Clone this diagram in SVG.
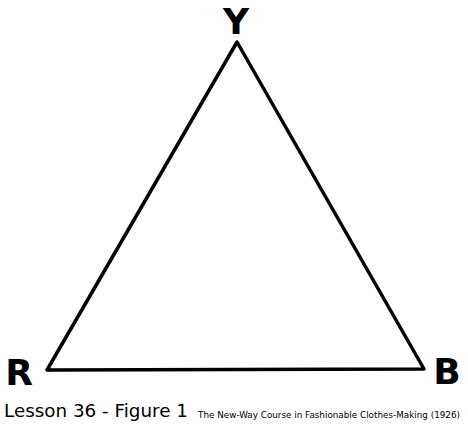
<svg xmlns="http://www.w3.org/2000/svg" width="468" height="425" viewBox="0 0 468 425">
<style>
.edge{fill:none;stroke:#000;stroke-width:3.5;stroke-linejoin:round;stroke-linecap:round}
.lbl{font-family:"DejaVu Sans",sans-serif;font-size:36px;font-weight:bold;fill:#000}
.cap{font-family:"DejaVu Sans",sans-serif;fill:#000}
</style>
<rect width="468" height="425" fill="#fff"/>
<g id="connectors">
<path class="edge" d="M237,42 L47,370 L424,369 Z"/>
</g>
<g id="nodeY"><text class="lbl" x="236" y="34" text-anchor="middle">Y</text></g>
<g id="nodeR"><text class="lbl" x="19" y="385" text-anchor="middle">R</text></g>
<g id="nodeB"><text class="lbl" x="447" y="384" text-anchor="middle">B</text></g>
<g id="caption">
<text class="cap" x="4" y="417" font-size="17" textLength="184" lengthAdjust="spacingAndGlyphs">Lesson 36 - Figure 1</text>
<text class="cap" x="198" y="418" font-size="9" textLength="262" lengthAdjust="spacingAndGlyphs">The New-Way Course in Fashionable Clothes-Making (1926)</text>
</g>
</svg>
